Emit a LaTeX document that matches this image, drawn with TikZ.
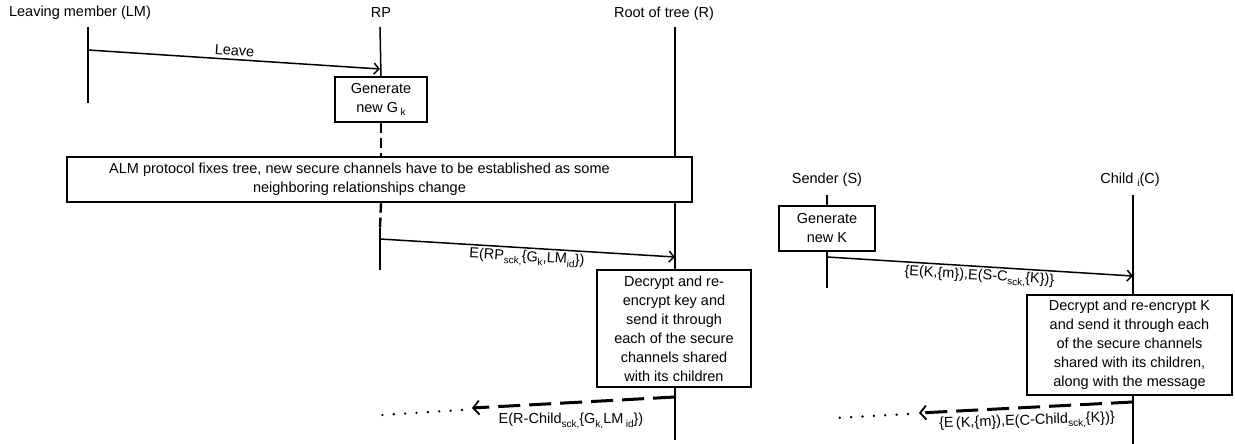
\documentclass[tikz,border=0pt]{standalone}
\usepackage{fontspec}
\setmainfont{Liberation Sans}
\usetikzlibrary{arrows.meta}
\newcommand{\sbs}[1]{\raisebox{-0.45ex}{\fontsize{10}{10}\selectfont #1}}
\begin{document}
\begin{tikzpicture}[x=1pt,y=-1pt,
  font=\fontsize{14.5}{19}\selectfont,
  lifeline/.style={line width=1.5pt},
  dashlife/.style={line width=2.4pt, dash pattern=on 10pt off 5pt},
  msg/.style={line width=1.5pt, -{Straight Barb[length=5pt,width=11pt,line width=1.5pt]}},
  fwd/.style={line width=3pt, dash pattern=on 22pt off 9pt, -{Straight Barb[length=6pt,width=14pt,line width=1.8pt]}},
  dots/.style={line width=2.6pt, line cap=round, dash pattern=on 0pt off 11.4pt},
  box/.style={draw, line width=1.4pt, fill=white, align=center, inner sep=0pt},
  lbl/.style={inner sep=1pt}]
\useasboundingbox (0,0) rectangle (1235,444);

% participant labels
\node[lbl] (lmL) at (80,13) {Leaving member (LM)};
\node[lbl] (rpL) at (381,13) {RP};
\node[lbl] (rL) at (664,14) {Root of tree (R)};
\node[lbl] (sL) at (827,180) {Sender (S)};
\node[lbl] (cL) at (1130,180) {Child \sbs{i}(C)};

% lifeline endpoints
\coordinate (lm0) at (88,27);   \coordinate (lm1) at (88,103);
\coordinate (rp0) at (380,27);  \coordinate (rp2) at (380,228); \coordinate (rp3) at (380,270);
\coordinate (r0) at (675,27);   \coordinate (r1) at (675,440);
\coordinate (s0) at (827,195);  \coordinate (s1) at (827,288);
\coordinate (c0) at (1133,195); \coordinate (c1) at (1133,444);

% message endpoints
\coordinate (m1a) at (88,50);   \coordinate (m1b) at (380,69);
\coordinate (m2a) at (380,239); \coordinate (m2b) at (675,257);
\coordinate (m3a) at (675,397); \coordinate (m3b) at (472,408);
\coordinate (d1a) at (462,410); \coordinate (d1b) at (382,415);
\coordinate (m4a) at (827,257); \coordinate (m4b) at (1133,276);
\coordinate (m5a) at (1133,402);\coordinate (m5b) at (919,413);
\coordinate (d2a) at (908,414); \coordinate (d2b) at (835,418);

% lifelines (boxes drawn later cover them)
\draw[lifeline] (lm0) -- (lm1);
\draw[lifeline] (r0) -- (r1);
\draw[lifeline] (s0) -- (s1);
\draw[lifeline] (c0) -- (c1);

% boxes
\node[box, minimum width=92pt, minimum height=45pt] (gk) at (381,99.5)
  {Generate\\new G\,\sbs{k}};
\node[box, minimum width=625pt, minimum height=45pt] (alm) at (379.5,179.5)
  {\begin{tabular}{@{}c@{}}ALM protocol fixes tree, new secure channels have to be established as some\\neighboring relationships change\end{tabular}\hspace{40pt}};
\node[box, minimum width=154pt, minimum height=117pt] (dec1) at (674,328.5)
  {Decrypt and re-\\encrypt key and\\send it through\\each of the secure\\channels shared\\with its children};
\node[box, minimum width=96pt, minimum height=45pt] (gK) at (827,228.5)
  {Generate\\new K};
\node[box, minimum width=205pt, minimum height=100pt] (dec2) at (1129.5,345)
  {Decrypt and re-encrypt K\\and send it through each\\of the secure channels\\shared with its children,\\along with the message};

% RP lifeline
\draw[lifeline] (rp0) -- (gk.north);
\draw[dashlife] (gk.south) -- (gk.south |- alm.north);
\draw[dashlife] (gk.south |- alm.south) -- (rp2);
\draw[lifeline] (rp2) -- (rp3);

% messages
\draw[msg] (m1a) -- node[sloped, above, inner sep=3pt] {Leave} (m1b);
\draw[msg] (m2a) -- node[sloped, below, inner sep=2pt, pos=0.5] {E(RP\sbs{sck,}\{G\sbs{k},LM\sbs{id}\})} (m2b);
\draw[fwd] (m3a) -- (m3b);
\draw[dots] (d1a) -- (d1b);
\node[lbl] (l3) at (571,421) {E(R-Child\sbs{sck,}\{G\sbs{k,}LM\,\sbs{id}\})};
\draw[msg] (m4a) -- node[sloped, below, inner sep=2pt, pos=0.5] {\{E(K,\{m\}),E(S-C\sbs{sck,}\{K\})\}} (m4b);
\draw[fwd] (m5a) -- (m5b);
\draw[dots] (d2a) -- (d2b);
\node[lbl, rotate=2] (l5) at (1027,422) {\{E\,(K,\{m\}),E(C-Child\sbs{sck,}\{K\})\}};
\end{tikzpicture}
\end{document}
